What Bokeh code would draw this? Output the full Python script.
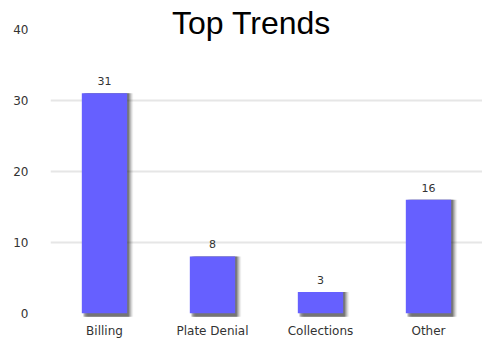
from bokeh.plotting import figure
from bokeh.models import ColumnDataSource, Range1d, FixedTicker, Label
from bokeh.transform import dodge
from bokeh.core.properties import value
from bokeh.embed import file_html
from bokeh.resources import INLINE

categories = ["Billing", "Plate Denial", "Collections", "Other"]
counts = [31, 8, 3, 16]
y_ticks = [0, 10, 20, 30, 40]
grid_ticks = [10, 20, 30]
title_text = "Top Trends"

src = ColumnDataSource(dict(cat=categories, val=counts, lab=[str(v) for v in counts]))

p = figure(x_range=categories, y_range=Range1d(-0.6, 44.08), width=482, height=341,
           output_backend="svg", toolbar_location=None,
           min_border_left=50, min_border_right=0, min_border_top=0, min_border_bottom=24)
p.outline_line_color = None
p.background_fill_color = "white"
p.border_fill_color = "white"

# soft shadow layers
for off, a in [(0.055, 0.07), (0.045, 0.11), (0.035, 0.16), (0.025, 0.22), (0.015, 0.3)]:
    p.vbar(x=dodge("cat", off, range=p.x_range), top="val", bottom=-0.5, width=0.42,
           source=src, fill_color="#222222", fill_alpha=a, line_color=None)
p.vbar(x="cat", top="val", bottom=0, width=0.42, source=src,
       fill_color="#6660FF", line_color=None)
p.text(x="cat", y="val", text="lab", source=src, text_align="center",
       text_baseline="bottom", y_offset=-8, text_font_size="11px",
       text_color="#333333", text_font=value("DejaVu Sans"))

p.yaxis.ticker = FixedTicker(ticks=y_ticks)
p.ygrid.ticker = FixedTicker(ticks=grid_ticks)
p.ygrid.grid_line_color = "#e6e6e6"
p.ygrid.grid_line_width = 2
p.xgrid.grid_line_color = None
for ax in (p.xaxis, p.yaxis):
    ax.axis_line_color = None
    ax.major_tick_line_color = None
    ax.minor_tick_line_color = None
    ax.major_tick_out = 0
    ax.major_tick_in = 0
    ax.major_label_text_font = "DejaVu Sans"
    ax.major_label_text_font_size = "12px"
    ax.major_label_text_color = "#333333"
p.yaxis.major_label_standoff = 22
p.xaxis.major_label_standoff = 6

p.add_layout(Label(x=201, y=295, x_units="screen", y_units="screen", text=title_text,
                   text_font="Liberation Sans", text_font_size="32px", text_color="black",
                   text_align="center", text_baseline="alphabetic"))

open("out.html", "w").write(file_html(p, INLINE))
